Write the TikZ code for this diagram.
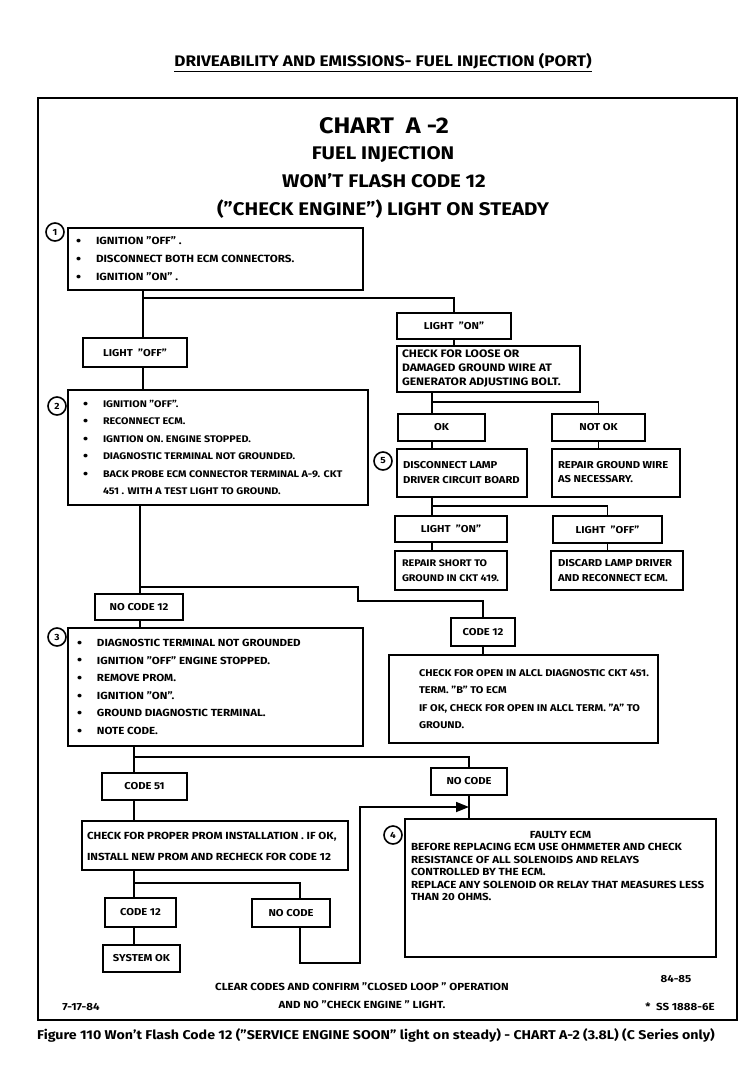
\documentclass[tikz,border=0pt]{standalone}
\usepackage{fontspec}
\setmainfont{Fira Sans}[FakeStretch=1.12]
\usetikzlibrary{arrows.meta}
\newcommand\bt{\makebox[20pt][l]{\raisebox{-0.8pt}{\fontsize{13}{13}\selectfont\textbullet}}}
\newcommand\flowbx[7][]{%
 \pgfmathsetmacro\fbw{#5-#3}\pgfmathsetmacro\fbh{#6-#4}%
 \pgfmathsetmacro\fbcx{(#3+#5)/2}\pgfmathsetmacro\fbcy{(#4+#6)/2}%
 \node[bx,minimum width=\fbw pt,minimum height=\fbh pt,#1] (#2) at (\fbcx,\fbcy) {#7};}
\newcommand\lft[2]{\makebox[\fbw pt][l]{\hspace{#1pt}\begin{tabular}{@{}l@{}}#2\end{tabular}}}
\begin{document}
\begin{tikzpicture}[x=1pt,y=-1pt,
  bx/.style={draw,line width=1.7pt,inner sep=0pt,font=\bfseries\fontsize{10}{17.5}\selectfont},
  ln/.style={line width=1.7pt},
  num/.style={circle,draw,line width=1.6pt,minimum size=18pt,inner sep=0pt,fill=white,font=\bfseries\fontsize{9}{9}\selectfont},
  ttl/.style={inner sep=0pt,font=\bfseries\fontsize{18.3}{18}\selectfont},
  foot/.style={inner sep=0pt,font=\bfseries\fontsize{10.3}{10}\selectfont}]
\useasboundingbox (0,0) rectangle (752,1088);
\fill[white] (0,0) rectangle (752,1088);
% header
\node[inner sep=0pt,font=\bfseries\fontsize{15.3}{15}\selectfont] (hdr) at (383,61) {DRIVEABILITY AND EMISSIONS- FUEL INJECTION (PORT)};
\draw[line width=1pt] ([yshift=-2pt]hdr.south west) -- ([yshift=-2pt]hdr.south east);
% frame
\draw[line width=1.5pt] (38,98) rectangle (737,1020);
% titles
\node[inner sep=0pt,font=\bfseries\fontsize{22.5}{22}\selectfont] (t1) at (384,126) {CHART\ \ A -2};
\node[ttl] (t2) at (383,155) {FUEL INJECTION};
\node[ttl] (t3) at (384,181) {WON'T FLASH CODE 12};
\node[ttl] (t4) at (383,209) {("CHECK ENGINE") LIGHT ON STEADY};
% boxes
\flowbx[font=\bfseries\fontsize{10.4}{18}\selectfont]{b1}{68}{228}{363}{290}{\lft{8}{\bt IGNITION "OFF" .\\ \bt DISCONNECT BOTH ECM CONNECTORS.\\ \bt IGNITION "ON" .}}
\flowbx{loff}{83}{338}{187}{367}{LIGHT\ \ "OFF"}
\flowbx{lon}{397}{313}{511}{339}{LIGHT\ \ "ON"}
\flowbx[font=\bfseries\fontsize{10.8}{14}\selectfont]{chk}{397}{346}{580}{392}{\lft{5}{CHECK FOR LOOSE OR\\ DAMAGED GROUND WIRE AT\\ GENERATOR ADJUSTING BOLT.}}
\flowbx{ok}{398}{414}{485}{441}{OK}
\flowbx{nok}{552}{414}{645}{441}{NOT OK}
\flowbx[font=\bfseries\fontsize{10}{15}\selectfont]{b5}{397}{449}{527}{497}{\lft{6}{DISCONNECT LAMP\\ DRIVER CIRCUIT BOARD}}
\flowbx[font=\bfseries\fontsize{10}{14}\selectfont]{rep}{552}{449}{680}{497}{\lft{6}{REPAIR GROUND WIRE\\ AS NECESSARY.}}
\flowbx{lon2}{395}{516}{507}{542}{LIGHT\ \ "ON"}
\flowbx{loff2}{553}{516}{662}{543}{LIGHT\ \ "OFF"}
\flowbx[font=\bfseries\fontsize{9.6}{15}\selectfont]{rs}{395}{551}{507}{590}{\lft{7}{REPAIR SHORT TO\\ GROUND IN CKT 419.}}
\flowbx[font=\bfseries\fontsize{10}{15}\selectfont]{dis}{551}{551}{683}{590}{\lft{7}{DISCARD LAMP DRIVER\\ AND RECONNECT ECM.}}
\flowbx[font=\bfseries\fontsize{9.6}{17.5}\selectfont]{b2}{68}{390}{368}{505}{\lft{15}{\bt IGNITION "OFF".\\ \bt RECONNECT ECM.\\ \bt IGNTION ON. ENGINE STOPPED.\\ \bt DIAGNOSTIC TERMINAL NOT GROUNDED.\\ \bt BACK PROBE ECM CONNECTOR TERMINAL A-9. CKT\\ \hspace{20pt}451 . WITH A TEST LIGHT TO GROUND.}}
\flowbx{nc12}{95}{594}{183}{620}{NO CODE 12}
\flowbx[font=\bfseries\fontsize{10.3}{17.6}\selectfont]{b3}{68}{628}{363}{746}{\lft{9}{\bt DIAGNOSTIC TERMINAL NOT GROUNDED\\ \bt IGNITION "OFF" ENGINE STOPPED.\\ \bt REMOVE PROM.\\ \bt IGNITION "ON".\\ \bt GROUND DIAGNOSTIC TERMINAL.\\ \bt NOTE CODE.}}
\flowbx{c12}{451}{618}{515}{646}{CODE 12}
\flowbx[font=\bfseries\fontsize{9.8}{17.5}\selectfont]{opn}{389}{655}{658}{743}{\lft{30}{CHECK FOR OPEN IN ALCL DIAGNOSTIC CKT 451.\\ TERM. "B" TO ECM\\ IF OK, CHECK FOR OPEN IN ALCL TERM. "A" TO\\ GROUND.}}
\flowbx{c51}{102}{773}{187}{800}{CODE 51}
\flowbx{ncR}{431}{768}{507}{795}{NO CODE}
\flowbx[font=\bfseries\fontsize{10.3}{21}\selectfont]{prom}{82}{821}{348}{870}{\lft{5}{CHECK FOR PROPER PROM INSTALLATION . IF OK,\\ INSTALL NEW PROM AND RECHECK FOR CODE 12}}
\flowbx[font=\bfseries\fontsize{10.3}{12.5}\selectfont]{fe}{405}{819}{716}{957}{\parbox[c][138pt][t]{311pt}{\vspace{12pt}\centering FAULTY ECM\par\raggedright\leftskip=6pt BEFORE REPLACING ECM USE OHMMETER AND CHECK\\ RESISTANCE OF ALL SOLENOIDS AND RELAYS\\ CONTROLLED BY THE ECM.\\ REPLACE ANY SOLENOID OR RELAY THAT MEASURES LESS\\ THAN 20 OHMS.\par}}
\flowbx{c12b}{105}{898}{176}{927}{CODE 12}
\flowbx{ncL}{252}{899}{330}{927}{NO CODE}
\flowbx{sys}{103}{945}{180}{972}{SYSTEM OK}
% numbered circles
\node[num] (n1) at (55,232) {1};
\node[num] (n2) at (57,406) {2};
\node[num] (n3) at (57,637) {3};
\node[num] (n4) at (393,835) {4};
\node[num] (n5) at (383,461) {5};
% junction coordinates
\coordinate (j1) at (143,298);
\coordinate (j2) at (432,402);
\coordinate (j3) at (432,506);
\coordinate (j4) at (140,587);
\coordinate (j5) at (358,601);
\coordinate (j6) at (134,757);
\coordinate (j7) at (134,883);
\coordinate (j8) at (300,883);
\coordinate (j9) at (360,963);
\coordinate (jA) at (469,807);
% connectors
\draw[ln] (j1 |- b1.south) -- (j1 |- loff.north);
\draw[ln] (j1) -| (lon.north);
\draw[ln] (j1 |- loff.south) -- (j1 |- b2.north);
\draw[ln] (lon.south) -- (lon.south |- chk.north);
\draw[ln] (j2 |- chk.south) -- (j2 |- ok.north);
\draw[ln] (j2) -| (nok.north);
\draw[ln] (j2 |- ok.south) -- (j2 |- b5.north);
\draw[ln] (nok.south) -- (nok.south |- rep.north);
\draw[ln] (j3 |- b5.south) -- (j3 |- lon2.north);
\draw[ln] (j3) -| (loff2.north);
\draw[ln] (j3 |- lon2.south) -- (j3 |- rs.north);
\draw[ln] (loff2.south) -- (loff2.south |- dis.north);
\draw[ln] (j4 |- b2.south) -- (j4 |- nc12.north);
\draw[ln] (j4) -| (j5) -| (c12.north);
\draw[ln] (j4 |- nc12.south) -- (j4 |- b3.north);
\draw[ln] (c12.south) -- (c12.south |- opn.north);
\draw[ln] (j6 |- b3.south) -- (j6 |- c51.north);
\draw[ln] (j6) -| (jA |- ncR.north);
\draw[ln] (j6 |- c51.south) -- (j6 |- prom.north);
\draw[ln] (j7 |- prom.south) -- (j7 |- c12b.north);
\draw[ln] (j7) -- (j8) -- (j8 |- ncL.north);
\draw[ln] (j7 |- c12b.south) -- (j7 |- sys.north);
\draw[ln] (jA |- ncR.south) -- (jA |- fe.north);
\draw[ln,-{Triangle[length=13pt,width=10pt]}] (j8 |- ncL.south) |- (j9) |- (jA);
% footer texts
\node[foot] (cl1) at (362,987) {CLEAR CODES AND CONFIRM "CLOSED LOOP " OPERATION};
\node[foot] (cl2) at (362,1005) {AND NO "CHECK ENGINE " LIGHT.};
\node[foot] (dt) at (81,1007) {7-17-84};
\node[foot] (yr) at (676,979) {84-85};
\node[foot] (ss) at (680,1007) {* \ SS 1888-6E};
\node[inner sep=0pt,font=\bfseries\fontsize{12.7}{13}\selectfont] (cap) at (376,1035) {Figure 110 Won't Flash Code 12 ("SERVICE ENGINE SOON" light on steady) - CHART A-2 (3.8L) (C Series only)};
\end{tikzpicture}
\end{document}
